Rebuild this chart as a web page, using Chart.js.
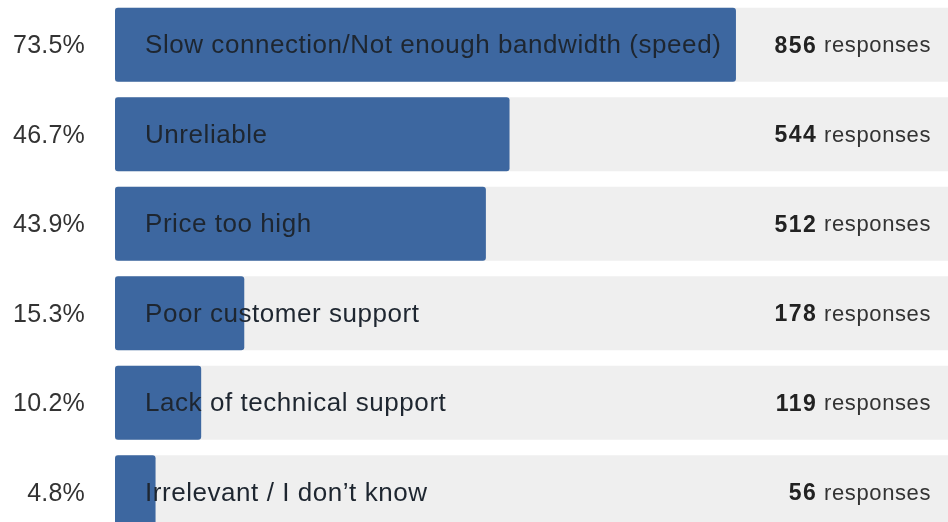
<!DOCTYPE html>
<html>
<head>
<meta charset="utf-8">
<script src="https://cdn.jsdelivr.net/npm/chart.js@4"></script>
<style>
  html, body { margin: 0; padding: 0; background: #fff; overflow: hidden; }
  #wrap { width: 948px; height: 522px; overflow: hidden; }
  #wrap div { width: 948px; height: 537px; }
</style>
</head>
<body>
<div id="wrap"><div><canvas id="reasons"></canvas></div></div>
<script>
const reasons = [
  "Slow connection/Not enough bandwidth (speed)",
  "Unreliable",
  "Price too high",
  "Poor customer support",
  "Lack of technical support",
  "Irrelevant / I don\u2019t know"
];
const percents = [73.5, 46.7, 43.9, 15.3, 10.2, 4.8];
const responses = [856, 544, 512, 178, 119, 56];
const scaleMax = 98.6;

const fontFamily = '"Liberation Sans", Arial, Helvetica, sans-serif';

// writes the percent, the reason and the response count on each row
const rowLabels = {
  id: 'rowLabels',
  afterDatasetsDraw(chart) {
    const ctx = chart.ctx;
    const meta = chart.getDatasetMeta(1);
    ctx.save();
    ctx.textBaseline = 'middle';
    meta.data.forEach((bar, i) => {
      const y = bar.y + 1.5;
      ctx.letterSpacing = '0.2px';
      ctx.font = '25px ' + fontFamily;
      ctx.fillStyle = '#333';
      ctx.textAlign = 'right';
      ctx.fillText(percents[i].toFixed(1) + '%', 85, y);

      ctx.letterSpacing = '0.55px';
      ctx.font = '26px ' + fontFamily;
      ctx.fillStyle = '#1e2630';
      ctx.textAlign = 'left';
      ctx.fillText(reasons[i], 145, y);

      // bold count followed by the word "responses", right edge at 931
      ctx.letterSpacing = '0.6px';
      ctx.font = '22px ' + fontFamily;
      const rest = 'responses';
      const restW = ctx.measureText(rest).width;
      ctx.letterSpacing = '1.4px';
      ctx.font = 'bold 23px ' + fontFamily;
      const num = String(responses[i]);
      const numW = ctx.measureText(num).width;
      const gap = 7;
      const x0 = 931 - restW - gap - numW;
      ctx.fillStyle = '#222';
      ctx.fillText(num, x0, y);
      ctx.letterSpacing = '0.6px';
      ctx.font = '22px ' + fontFamily;
      ctx.fillStyle = '#333';
      ctx.fillText(rest, x0 + numW + gap, y);
    });
    ctx.restore();
  }
};

new Chart(document.getElementById('reasons'), {
  type: 'bar',
  data: {
    labels: reasons,
    datasets: [{
      data: reasons.map(() => scaleMax),
      backgroundColor: '#efefef',
      grouped: false,
      order: 2,
      borderSkipped: false,
      borderRadius: 0
    }, {
      data: percents,
      backgroundColor: '#3d67a0',
      grouped: false,
      order: 1,
      borderSkipped: false,
      borderRadius: 3
    }]
  },
  options: {
    indexAxis: 'y',
    responsive: true,
    maintainAspectRatio: false,
    animation: false,
    layout: { padding: { left: 115, right: 0, top: 0, bottom: 0 } },
    datasets: { bar: { barPercentage: 1, categoryPercentage: 0.828 } },
    plugins: { legend: { display: false }, tooltip: { enabled: false } },
    scales: {
      x: { min: 0, max: scaleMax, display: false },
      y: { display: false }
    }
  },
  plugins: [rowLabels]
});
</script>
</body>
</html>
